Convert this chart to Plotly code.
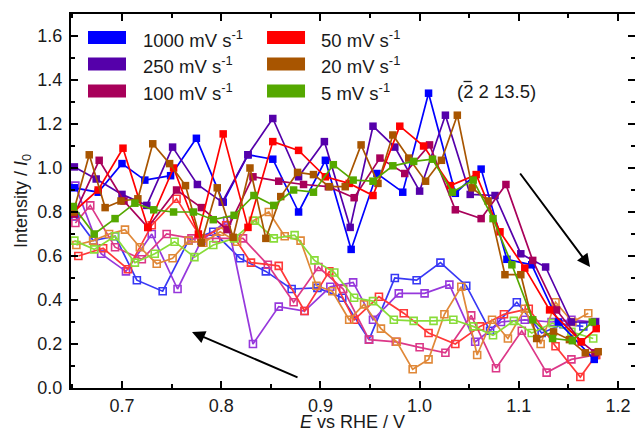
import plotly.graph_objects as go

# ---------------- data ----------------
labels = ["1000 mV s<sup>-1</sup>", "250 mV s<sup>-1</sup>", "100 mV s<sup>-1</sup>",
          "50 mV s<sup>-1</sup>", "20 mV s<sup>-1</sup>", "5 mV s<sup>-1</sup>"]
anodic_colors = ["#0000ff", "#5500aa", "#a8005a", "#ff0000", "#a85500", "#55a800"]
cathodic_colors = ["#3838f5", "#9638dc", "#dc3888", "#ff3838", "#e08838", "#88dc38"]

# anodic scans (filled squares)
a1000_x = [0.652, 0.676, 0.700, 0.723, 0.749, 0.775, 0.802, 0.827, 0.852, 0.878, 0.905, 0.931, 0.957, 0.983, 1.009, 1.036, 1.062, 1.088, 1.113, 1.140, 1.176]
a1000_y = [0.91, 0.89, 1.02, 0.945, 0.965, 1.135, 0.845, 1.06, 1.04, 0.80, 1.035, 0.63, 0.975, 0.89, 1.34, 0.885, 0.995, 0.585, 0.56, 0.30, 0.13]

a250_x = [0.652, 0.674, 0.700, 0.725, 0.751, 0.776, 0.801, 0.827, 0.852, 0.878, 0.904, 0.930, 0.953, 0.975, 1.000, 1.026, 1.051, 1.076, 1.102, 1.127, 1.153, 1.177]
a250_y = [1.005, 0.95, 0.88, 0.83, 1.095, 0.925, 0.845, 1.06, 1.225, 0.96, 1.12, 0.73, 1.19, 1.095, 0.895, 1.24, 0.88, 0.875, 0.61, 0.55, 0.30, 0.30]

a100_x = [0.652, 0.677, 0.702, 0.726, 0.755, 0.780, 0.806, 0.832, 0.858, 0.883, 0.908, 0.934, 0.960, 0.985, 1.010, 1.036, 1.062, 1.087, 1.114, 1.138, 1.163, 1.177]
a100_y = [0.79, 1.035, 0.85, 0.73, 0.90, 0.82, 0.72, 0.96, 0.94, 0.925, 0.915, 0.865, 1.045, 0.975, 1.105, 0.81, 0.77, 0.925, 0.58, 0.355, 0.21, 0.16]

a50_x = [0.651, 0.676, 0.701, 0.726, 0.752, 0.777, 0.802, 0.827, 0.852, 0.878, 0.905, 0.929, 0.953, 0.980, 1.004, 1.031, 1.057, 1.081, 1.106, 1.131, 1.163, 1.178]
a50_y = [0.80, 0.90, 1.09, 0.73, 1.00, 0.70, 1.155, 0.73, 1.12, 1.08, 0.96, 0.93, 0.875, 1.19, 1.10, 0.92, 0.97, 0.71, 0.545, 0.355, 0.21, 0.27]

a20_x = [0.651, 0.667, 0.683, 0.699, 0.716, 0.731, 0.748, 0.764, 0.780, 0.796, 0.812, 0.829, 0.845, 0.860, 0.877, 0.893, 0.909, 0.925, 0.941, 0.958, 0.973, 0.989, 1.006, 1.022, 1.038, 1.053, 1.069, 1.086, 1.102, 1.118, 1.135, 1.151, 1.167, 1.180]
a20_y = [0.80, 1.06, 0.82, 0.85, 0.86, 1.11, 1.02, 0.92, 0.66, 0.91, 0.685, 1.00, 0.68, 0.87, 0.98, 0.97, 0.915, 0.915, 1.105, 0.93, 1.15, 1.045, 0.94, 1.035, 1.24, 0.91, 0.85, 0.515, 0.515, 0.225, 0.255, 0.22, 0.16, 0.165]

a5_x = [0.651, 0.672, 0.693, 0.713, 0.732, 0.752, 0.772, 0.792, 0.813, 0.833, 0.853, 0.873, 0.893, 0.913, 0.933, 0.953, 0.973, 0.994, 1.013, 1.033, 1.054, 1.074, 1.093, 1.114, 1.134, 1.154, 1.174]
a5_y = [0.825, 0.70, 0.77, 0.84, 0.81, 0.80, 0.80, 0.765, 0.785, 0.875, 0.83, 0.90, 0.89, 1.015, 0.945, 0.94, 1.01, 1.03, 1.04, 0.89, 0.945, 0.77, 0.56, 0.31, 0.225, 0.215, 0.30]

# cathodic scans (open squares)
c1000_x = [0.653, 0.671, 0.693, 0.715, 0.741, 0.767, 0.792, 0.819, 0.845, 0.871, 0.897, 0.922, 0.949, 0.975, 0.997, 1.021, 1.047, 1.071, 1.098, 1.123, 1.145, 1.165]
c1000_y = [0.78, 0.67, 0.69, 0.49, 0.44, 0.67, 0.71, 0.59, 0.53, 0.45, 0.455, 0.41, 0.22, 0.50, 0.49, 0.57, 0.465, 0.26, 0.39, 0.25, 0.29, 0.28]

c250_x = [0.653, 0.679, 0.704, 0.730, 0.756, 0.780, 0.806, 0.832, 0.858, 0.884, 0.910, 0.933, 0.953, 0.979, 1.005, 1.030, 1.056, 1.082, 1.106, 1.133, 1.153, 1.177]
c250_y = [0.92, 0.61, 0.53, 0.70, 0.45, 0.67, 0.76, 0.20, 0.37, 0.35, 0.46, 0.48, 0.31, 0.43, 0.43, 0.47, 0.21, 0.30, 0.31, 0.30, 0.31, 0.30]

c100_x = [0.653, 0.668, 0.693, 0.720, 0.745, 0.770, 0.795, 0.822, 0.847, 0.873, 0.898, 0.923, 0.949, 0.976, 1.000, 1.026, 1.052, 1.077, 1.103, 1.128, 1.153, 1.177]
c100_y = [0.75, 0.83, 0.64, 0.585, 0.70, 0.68, 0.68, 0.68, 0.56, 0.39, 0.55, 0.45, 0.22, 0.21, 0.185, 0.16, 0.33, 0.09, 0.26, 0.07, 0.13, 0.15]

c50_x = [0.656, 0.681, 0.706, 0.730, 0.755, 0.780, 0.805, 0.830, 0.858, 0.884, 0.909, 0.934, 0.959, 0.984, 1.009, 1.036, 1.061, 1.085, 1.110, 1.137, 1.162, 1.178]
c50_y = [0.60, 0.635, 0.54, 0.74, 0.86, 0.68, 0.74, 0.57, 0.555, 0.35, 0.53, 0.31, 0.415, 0.34, 0.25, 0.20, 0.28, 0.335, 0.36, 0.19, 0.05, 0.15]

c20_x = [0.654, 0.671, 0.687, 0.703, 0.718, 0.735, 0.751, 0.767, 0.782, 0.799, 0.816, 0.832, 0.848, 0.864, 0.880, 0.896, 0.912, 0.929, 0.944, 0.961, 0.977, 0.993, 1.009, 1.025, 1.042, 1.058, 1.073, 1.089, 1.106, 1.122, 1.137, 1.154, 1.170]
c20_y = [0.65, 0.67, 0.70, 0.72, 0.64, 0.565, 0.59, 0.67, 0.66, 0.71, 0.665, 0.76, 0.80, 0.69, 0.67, 0.465, 0.44, 0.31, 0.38, 0.27, 0.21, 0.085, 0.13, 0.335, 0.46, 0.15, 0.31, 0.225, 0.36, 0.20, 0.39, 0.30, 0.34]

c5_x = [0.652, 0.672, 0.693, 0.713, 0.733, 0.753, 0.773, 0.792, 0.813, 0.834, 0.853, 0.874, 0.894, 0.914, 0.934, 0.953, 0.974, 0.994, 1.014, 1.034, 1.054, 1.074, 1.095, 1.113, 1.134, 1.153, 1.175]
c5_y = [0.67, 0.63, 0.69, 0.57, 0.61, 0.665, 0.595, 0.65, 0.68, 0.76, 0.68, 0.695, 0.58, 0.525, 0.41, 0.395, 0.31, 0.305, 0.305, 0.31, 0.28, 0.24, 0.305, 0.25, 0.295, 0.255, 0.225]

anodic = [(a1000_x, a1000_y), (a250_x, a250_y), (a100_x, a100_y),
          (a50_x, a50_y), (a20_x, a20_y), (a5_x, a5_y)]
cathodic = [(c1000_x, c1000_y), (c250_x, c250_y), (c100_x, c100_y),
            (c50_x, c50_y), (c20_x, c20_y), (c5_x, c5_y)]

x_range = [0.6486, 1.2171]
y_range = [0.0, 1.70]
major_y = [0.0, 0.2, 0.4, 0.6, 0.8, 1.0, 1.2, 1.4, 1.6]
minor_y = [0.1, 0.3, 0.5, 0.7, 0.9, 1.1, 1.3, 1.5]
major_x = [0.7, 0.8, 0.9, 1.0, 1.1, 1.2]
minor_x = [0.65, 0.75, 0.85, 0.95, 1.05, 1.15]

# ---------------- figure ----------------
FONT = "Liberation Sans, Arial, sans-serif"
TXT = "#1a1a1a"
fig = go.Figure()

for (xs, ys), col in zip(cathodic, cathodic_colors):
    fig.add_trace(go.Scatter(
        x=xs, y=ys, mode="lines+markers", showlegend=False,
        line=dict(color=col, width=1.7),
        marker=dict(symbol="square-open", size=7, color=col, line=dict(width=1.6, color=col)),
    ))

for (xs, ys), col in zip(anodic, anodic_colors):
    fig.add_trace(go.Scatter(
        x=xs, y=ys, mode="lines+markers", showlegend=False,
        line=dict(color=col, width=1.7),
        marker=dict(symbol="square", size=7.5, color=col),
    ))

# invisible trace for the right-hand tick axis
fig.add_trace(go.Scatter(x=[x_range[0]], y=[0], yaxis="y2", mode="markers",
                         marker=dict(opacity=0), showlegend=False, hoverinfo="skip"))

def px2x(px):
    return x_range[0] + (px - 71) / 992.0

def py2y(py):
    return (388 - py) / 220.0

# manual legend (big colour boxes)
row_py = [37.5, 64.0, 91.0]
col_box = [(88, 126, 141), (267, 305, 319)]
for i, (lab, col) in enumerate(zip(labels, anodic_colors)):
    c, r = divmod(i, 3)
    bx0, bx1, tx = col_box[c]
    cy = row_py[r]
    fig.add_shape(type="rect", xref="x", yref="y",
                  x0=px2x(bx0), x1=px2x(bx1), y0=py2y(cy + 6.5), y1=py2y(cy - 6.5),
                  fillcolor=col, line=dict(width=0))
    fig.add_annotation(x=px2x(tx), y=py2y(cy + 1), xref="x", yref="y", text=lab,
                       showarrow=False, xanchor="left", yanchor="middle",
                       font=dict(family=FONT, size=18.5, color=TXT))

# plane label (with overbar on the first index)
fig.add_annotation(x=px2x(455), y=py2y(91), xref="x", yref="y",
                   text="(2 2 13.5)", showarrow=False, xanchor="left", yanchor="middle",
                   font=dict(family=FONT, size=18.5, color=TXT))
fig.add_shape(type="line", xref="x", yref="y",
              x0=px2x(463.5), x1=px2x(471.5), y0=py2y(81.5), y1=py2y(81.5),
              line=dict(color=TXT, width=1.3))

# arrows
fig.add_annotation(x=px2x(590), y=py2y(267), ax=px2x(519), ay=py2y(172),
                   xref="x", yref="y", axref="x", ayref="y", text="",
                   showarrow=True, arrowhead=2, arrowsize=1.3, arrowwidth=2, arrowcolor="black")
fig.add_annotation(x=px2x(192), y=py2y(332), ax=px2x(299), ay=py2y(378),
                   xref="x", yref="y", axref="x", ayref="y", text="",
                   showarrow=True, arrowhead=2, arrowsize=1.3, arrowwidth=2, arrowcolor="black")

# axis titles
fig.add_annotation(x=(352 - 71) / 564.0, y=-(422 - 388) / 374.0, xref="x domain", yref="y domain",
                   text="<i>E</i> vs RHE / V", showarrow=False, xanchor="center", yanchor="middle",
                   font=dict(family=FONT, size=18, color=TXT))
fig.add_annotation(x=-(71 - 22) / 564.0, y=0.5, xref="x domain", yref="y domain",
                   text="Intensity / <i>I</i><sub>0</sub>", textangle=-90, showarrow=False,
                   xanchor="center", yanchor="middle",
                   font=dict(family=FONT, size=18, color=TXT))

axis_common = dict(
    showgrid=False, zeroline=False, showline=True, linecolor="black", linewidth=2,
    ticks="inside", tickcolor="black", tickwidth=1.5, ticklen=7,
    tickfont=dict(family=FONT, size=18, color=TXT),
)
minor_common = dict(ticks="inside", ticklen=4, tickwidth=1.5, tickcolor="black")

fig.update_layout(
    width=635, height=430,
    margin=dict(l=71, r=0, t=14, b=42),
    paper_bgcolor="white", plot_bgcolor="white",
    xaxis=dict(range=x_range, tickvals=major_x, ticktext=[f"{v:.1f}" for v in major_x],
               mirror="ticks", minor=dict(tickvals=minor_x, **minor_common),
               **axis_common),
    yaxis=dict(range=y_range, tickvals=major_y, ticktext=[f"{v:.1f}" for v in major_y],
               mirror=False, ticklabelstandoff=3,
               minor=dict(tickvals=minor_y, **minor_common),
               **axis_common),
    yaxis2=dict(overlaying="y", side="right", range=y_range, showgrid=False, zeroline=False,
                showline=False, showticklabels=False, ticks="inside", tickcolor="black",
                tickwidth=1.5, ticklen=7, tickvals=major_y,
                minor=dict(tickvals=minor_y, **minor_common)),
)

fig.write_html("out.html")
